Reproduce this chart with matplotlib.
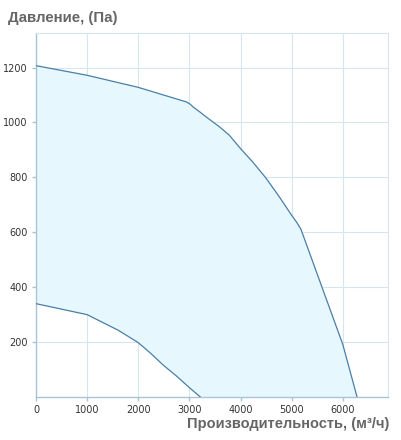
import numpy as np
import matplotlib
matplotlib.use("Agg")
import matplotlib.pyplot as plt

# ---------- data ----------
upper_q = [0, 1000, 2000, 2940, 3020, 3070, 3200, 3330, 3460, 3590, 3780, 4000,
           4240, 4500, 4760, 5000, 5100, 5180, 6000, 6280]
upper_p = [1207, 1172, 1128, 1075, 1066, 1057, 1039, 1020, 1002, 984, 954, 905,
           856, 797, 729, 662, 636, 612, 192, 0]
lower_q = [0, 1000, 1300, 1610, 2000, 2250, 2490, 2750, 3000, 3215]
lower_p = [340, 300, 272, 243, 198, 158, 116, 76, 34, 0]

x_ticks = [0, 1000, 2000, 3000, 4000, 5000, 6000]
y_ticks = [200, 400, 600, 800, 1000, 1200]

line_col = "#4a7fa8"
fill_col = "#e6f7fd"
grid_col = "#d6e6ee"
axis_col = "#a9c4d4"
label_col = "#666666"

fig = plt.figure(figsize=(4.01, 4.40), dpi=100)
ax = fig.add_axes([36 / 401, 43 / 440, 352 / 401, 364 / 440])

# closed outline of the working area: upper curve, bottom, lower curve back, left edge
poly_x = upper_q + lower_q[::-1]
poly_y = upper_p + lower_p[::-1]
ax.fill(poly_x, poly_y, color=fill_col, lw=0, zorder=1)
ax.plot(upper_q, upper_p, color=line_col, lw=0.9, zorder=3)
ax.plot(lower_q, lower_p, color=line_col, lw=0.9, zorder=3)

ax.set_xlim(0, 6885)
ax.set_ylim(0, 1326)
ax.set_xticks(x_ticks)
ax.set_yticks(y_ticks)
ax.grid(True, color=grid_col, lw=0.8, zorder=0)
ax.set_axisbelow(True)

for side in ["top", "right"]:
    ax.spines[side].set_color(grid_col)
    ax.spines[side].set_linewidth(0.8)
for side in ["left", "bottom"]:
    ax.spines[side].set_color(axis_col)
    ax.spines[side].set_linewidth(1.0)

ax.tick_params(axis="both", length=3, width=1, color=axis_col, labelsize=7,
               labelcolor="#333333", pad=3)

fig.text(8 / 401, 1 - 18 / 440, "Давление, (Па)", fontsize=10.8, fontweight="bold",
         family="Liberation Sans", color=label_col, ha="left", va="center")
fig.text(389 / 401, 1 - 424 / 440, "Производительность, (м³/ч)", fontsize=10.5,
         fontweight="bold", family="Liberation Sans", color=label_col,
         ha="right", va="center")

fig.savefig("out.png", dpi=100)
